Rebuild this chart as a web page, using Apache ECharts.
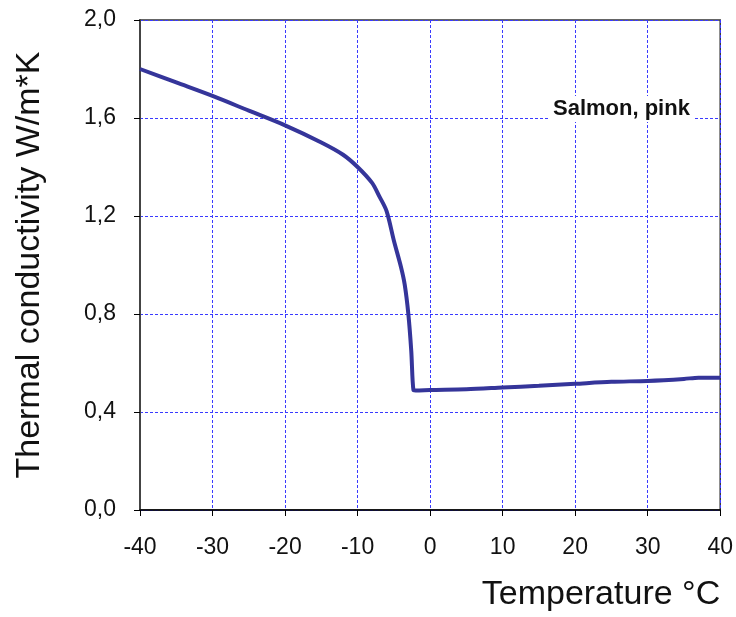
<!DOCTYPE html>
<html>
<head>
<meta charset="utf-8">
<script src="https://cdn.jsdelivr.net/npm/echarts@6/dist/echarts.min.js"></script>
<style>html,body{margin:0;padding:0;background:#fff;}#c{width:736px;height:617px;}</style>
</head>
<body>
<div id="c"></div>
<script>
var temperatures = [-40, -35, -30, -25, -20, -15, -12, -10, -8, -7, -6, -5, -4, -3.5, -3, -2.6, -2.3, -2, 0, 5, 10, 15, 20, 25, 30, 35, 37, 40];
var conductivity = [1.80, 1.745, 1.69, 1.63, 1.57, 1.50, 1.45, 1.40, 1.335, 1.28, 1.22, 1.10, 0.99, 0.92, 0.80, 0.65, 0.49, 0.488, 0.49, 0.493, 0.50, 0.507, 0.515, 0.523, 0.527, 0.535, 0.54, 0.54];
var xTicks = [-40, -30, -20, -10, 0, 10, 20, 30, 40];
var yTicks = ['0,0', '0,4', '0,8', '1,2', '1,6', '2,0'];
var seriesLabel = 'Salmon, pink';

var chart = echarts.init(document.getElementById('c'));
var data = temperatures.map(function (t, i) { return [t, conductivity[i]]; });
var font = 'Liberation Sans, Arial, sans-serif';
chart.setOption({
  animation: false,
  grid: { left: 140, right: 14, top: 20, bottom: 107, show: true, borderColor: '#333', borderWidth: 1.5 },
  xAxis: {
    type: 'value', min: -40, max: 40, interval: 10,
    name: 'Temperature °C', nameLocation: 'end', nameGap: 0,
    nameTextStyle: { fontFamily: font, fontSize: 34, color: '#111', align: 'right', verticalAlign: 'top', padding: [68, 0, 0, 0] },
    axisLine: { onZero: false, lineStyle: { color: '#000', width: 1.5 } },
    axisTick: { show: true, length: 6, lineStyle: { color: '#000' } },
    axisLabel: { margin: 26, fontFamily: font, fontSize: 23, color: '#111',
      formatter: function (v) { return xTicks.indexOf(v) >= 0 ? String(v) : ''; } },
    splitLine: { show: true, lineStyle: { color: '#3a3aff', type: [3, 2], width: 1 } }
  },
  yAxis: {
    type: 'value', min: 0, max: 2.0, interval: 0.4,
    name: 'Thermal conductivity W/m*K', nameLocation: 'middle', nameGap: 93,
    nameTextStyle: { fontFamily: font, fontSize: 34, color: '#111' },
    axisLine: { show: true, onZero: false, lineStyle: { color: '#444', width: 2 } },
    axisTick: { show: true, length: 6, lineStyle: { color: '#000' } },
    axisLabel: { margin: 24, fontFamily: font, fontSize: 23, color: '#111',
      formatter: function (v) { return yTicks[Math.round(v / 0.4)]; } },
    splitLine: { show: true, lineStyle: { color: '#3a3aff', type: [3, 2], width: 1 } }
  },
  graphic: [{
    type: 'text', left: 549, top: 96, z: 100,
    style: { text: seriesLabel, fontFamily: font, fontSize: 22, fontWeight: 'bold', fill: '#111',
      backgroundColor: '#fff', padding: [2, 4, 2, 4] }
  }],
  series: [{
    type: 'line', data: data, showSymbol: false, smooth: 0.3,
    lineStyle: { color: '#35359a', width: 4 }
  }]
});
</script>
</body>
</html>
